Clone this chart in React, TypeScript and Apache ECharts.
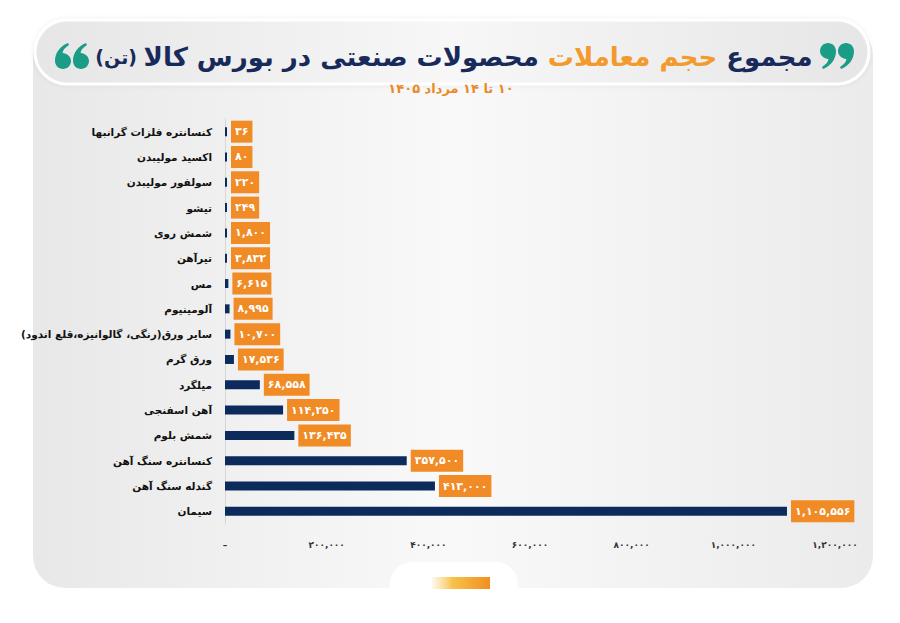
import React, { useEffect, useRef } from "react";
import * as echarts from "echarts";

const categories = [
  "کنسانتره فلزات گرانبها",
  "اکسید مولیبدن",
  "سولفور مولیبدن",
  "تیشو",
  "شمش روی",
  "تیرآهن",
  "مس",
  "آلومینیوم",
  "سایر ورق(رنگی، گالوانیزه،قلع اندود)",
  "ورق گرم",
  "میلگرد",
  "آهن اسفنجی",
  "شمش بلوم",
  "کنسانتره سنگ آهن",
  "گندله سنگ آهن",
  "سیمان",
];
const values = [36, 80, 220, 249, 1800, 3832, 6615, 8995, 10700, 17536, 68558, 114250, 136435, 357500, 413000, 1105556];
const axisMax = 1200000;
const axisStep = 200000;
const titleParts = ["(تن)", "محصولات صنعتی در بورس کالا", "حجم معاملات", "مجموع"];
const subtitle = "۱۰ تا ۱۴ مرداد ۱۴۰۵";

const FONT = "'DejaVu Sans', 'Noto Sans', sans-serif";
const NAVY = "#0c2a5c";
const ORANGE = "#f08b26";
const TEAL = "#1a9c86";

const faDigits = "۰۱۲۳۴۵۶۷۸۹";
function toFa(n: number): string {
  return n.toLocaleString("en-US").replace(/\d/g, (d) => faDigits[+d]);
}

const d9 = "M8 0 C12.4 0 16 3.6 16 8 C16 16 11 23 3 26 L2 24 C6 21.5 8 19 8.5 16 C4 15.8 0 12.4 0 8 C0 3.6 3.6 0 8 0 Z";
const d6 = "M8 26 C3.6 26 0 22.4 0 18 C0 10 5 3 13 0 L14 2 C10 4.5 8 7 7.5 10 C12 10.2 16 13.6 16 18 C16 22.4 12.4 26 8 26 Z";
let registered = false;
function registerShapes() {
  if (registered) return;
  echarts.graphic.registerShape("quote9", echarts.graphic.extendPath(d9, {}) as any);
  echarts.graphic.registerShape("quote6", echarts.graphic.extendPath(d6, {}) as any);
  registered = true;
}

export default function App() {
  const ref = useRef<HTMLDivElement>(null);
  useEffect(() => {
    if (!ref.current) return;
    registerShapes();
    const chart = echarts.init(ref.current, null, { renderer: "svg" });
    const option: any = {
      animation: false,
      backgroundColor: "#ffffff",
      graphic: [
        {
          type: "rect",
          z: -10,
          shape: { x: 33, y: 24, width: 840, height: 564, r: 32 },
          style: {
            fill: new echarts.graphic.LinearGradient(0, 0, 1, 0, [
              { offset: 0, color: "#e8e8e8" },
              { offset: 0.5, color: "#f9f9f9" },
              { offset: 1, color: "#ebebeb" },
            ]),
          },
        },
        {
          type: "rect",
          z: -9,
          shape: { x: 35, y: 20, width: 834, height: 64, r: 32 },
          style: {
            fill: new echarts.graphic.LinearGradient(0, 0, 1, 0, [
              { offset: 0, color: "#e6e6e6" },
              { offset: 0.5, color: "#f7f7f7" },
              { offset: 1, color: "#e6e6e6" },
            ]),
            stroke: "#ffffff",
            lineWidth: 3,
            shadowBlur: 4,
            shadowColor: "rgba(0,0,0,0.08)",
          },
        },
        {
          type: "rect",
          z: -8,
          shape: { x: 390, y: 562, width: 128, height: 70, r: 22 },
          style: { fill: "#ffffff" },
        },
        {
          type: "rect",
          z: -7,
          shape: { x: 432, y: 577, width: 58, height: 12 },
          style: {
            fill: new echarts.graphic.LinearGradient(0, 0, 1, 0, [
              { offset: 0, color: "rgba(250,210,120,0.15)" },
              { offset: 0.35, color: "#f7c24a" },
              { offset: 1, color: "#f0901e" },
            ]),
          },
        },
        { type: "quote9", z: 10, x: 820, y: 43, style: { fill: TEAL } },
        { type: "quote9", z: 10, x: 838, y: 43, style: { fill: TEAL } },
        { type: "quote6", z: 10, x: 55, y: 43, style: { fill: TEAL } },
        { type: "quote6", z: 10, x: 73, y: 43, style: { fill: TEAL } },
        {
          type: "text",
          z: 10,
          x: 454,
          y: 57,
          style: {
            text:
              "{a|" + titleParts[0] + " }{b|" + titleParts[1] + " }{c|" + titleParts[2] + " }{b|" + titleParts[3] + "}",
            align: "center",
            verticalAlign: "middle",
            textAlign: "center",
            textVerticalAlign: "middle",
            fontFamily: FONT,
            fontWeight: "bold",
            fontSize: 26,
            fill: "#172a5a",
            rich: {
              a: { fontSize: 19, fontWeight: "bold", fontFamily: FONT, fill: "#172a5a", color: "#172a5a" },
              b: { fontSize: 26, fontWeight: "bold", fontFamily: FONT, fill: "#172a5a", color: "#172a5a" },
              c: { fontSize: 26, fontWeight: "bold", fontFamily: FONT, fill: "#f39a2d", color: "#f39a2d" },
            },
          },
        },
        {
          type: "text",
          z: 10,
          x: 451,
          y: 88,
          style: {
            text: "\u200F" + subtitle,
            align: "center",
            verticalAlign: "middle",
            textAlign: "center",
            textVerticalAlign: "middle",
            fontFamily: FONT,
            fontWeight: "bold",
            fontSize: 13,
            fill: "#e98a2a",
          },
        },
      ],
      grid: { left: 225, right: 65, top: 119, bottom: 99, containLabel: false },
      xAxis: {
        type: "value",
        min: 0,
        max: axisMax,
        interval: axisStep,
        axisLine: { show: false },
        axisTick: { show: false },
        splitLine: { show: false },
        axisLabel: {
          margin: 16,
          color: "#333",
          fontSize: 9,
          fontWeight: "bold",
          fontFamily: FONT,
          formatter: (v: number) => (v === 0 ? "–" : toFa(v)),
        },
      },
      yAxis: {
        type: "category",
        inverse: true,
        data: categories,
        axisLine: { show: true, lineStyle: { color: "#d6d6d6", width: 1 } },
        axisTick: { show: false },
        axisLabel: {
          margin: 13,
          color: "#111",
          fontSize: 10.5,
          fontWeight: "bold",
          fontFamily: FONT,
          formatter: (v: string) => (v.endsWith(")") ? v + "\u200F" : v),
        },
      },
      series: [
        {
          type: "bar",
          data: values,
          barWidth: 9,
          barMinHeight: 2,
          itemStyle: { color: NAVY },
          label: {
            show: true,
            position: "right",
            distance: 4,
            formatter: (p: any) => toFa(p.value),
            backgroundColor: ORANGE,
            color: "#ffffff",
            fontWeight: "bold",
            fontSize: 11,
            fontFamily: FONT,
            padding: [6, 4, 5, 4],
          },
        },
      ],
    };
    chart.setOption(option);
    return () => chart.dispose();
  }, []);
  return (
    <div
      ref={ref}
      style={{ position: "fixed", left: 0, top: 0, width: 900, height: 623, background: "#fff" }}
    />
  );
}
